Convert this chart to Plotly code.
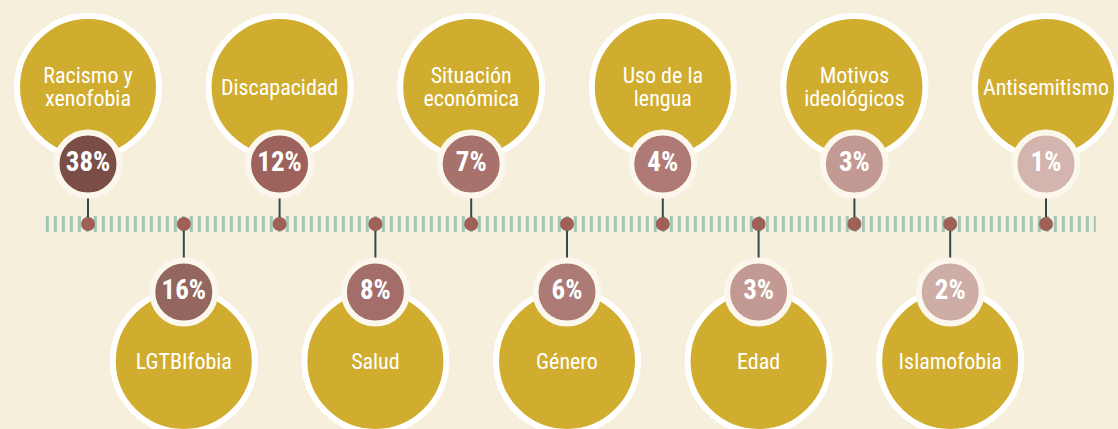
import plotly.graph_objects as go

# ---- data ----
categories = ["Racismo y<br>xenofobia", "LGTBIfobia", "Discapacidad", "Salud",
              "Situación<br>económica", "Género", "Uso de la<br>lengua", "Edad",
              "Motivos<br>ideológicos", "Islamofobia", "Antisemitismo"]
percentages = [38, 16, 12, 8, 7, 6, 4, 3, 3, 2, 1]
side = [1, -1, 1, -1, 1, -1, 1, -1, 1, -1, 1]  # 1 = above timeline, -1 = below

# ---- styles ----
pct_colors = ["#7A4E47", "#93675F", "#9C625B", "#A36E69", "#A8726C", "#AC7B76",
              "#AF7A75", "#C39A93", "#C39A93", "#CEADA7", "#D3B4AE"]
BG = "#F6EFDC"
GOLD = "#D1AD2F"
TICK = "#A2C5B6"
DOT = "#9E6059"
CONN = "#37474F"
FONT = "Roboto Condensed, DejaVu Sans Condensed, sans-serif"

W, H = 1118, 429
x0_px, step_px = 88, 95.8       # pixel position of first item and spacing
y_top_px = 224                  # pixel row of timeline from top

BIG_OFF, PCT_OFF_UP, PCT_OFF_DN = 137, 60, 68

n = len(categories)
xs = list(range(n))
big_y = [s * BIG_OFF for s in side]
pct_y = [PCT_OFF_UP if s > 0 else -PCT_OFF_DN for s in side]

fig = go.Figure()

# timeline (dashed band)
fig.add_trace(go.Scatter(
    x=[xs[0] - 0.44, xs[-1] + 0.52], y=[0, 0], mode="lines",
    line=dict(color=TICK, width=16, dash="3px,5px"), hoverinfo="skip"))

# connectors
cx, cy = [], []
for x, py in zip(xs, pct_y):
    cx += [x, x, None]
    cy += [py, 0, None]
fig.add_trace(go.Scatter(x=cx, y=cy, mode="lines",
                         line=dict(color=CONN, width=2), hoverinfo="skip"))

# big circles
fig.add_trace(go.Scatter(
    x=xs, y=big_y, mode="markers",
    marker=dict(size=142, color=GOLD, line=dict(color="white", width=6)),
    hoverinfo="skip"))

# percentage circles
fig.add_trace(go.Scatter(
    x=xs, y=pct_y, mode="markers",
    marker=dict(size=63, color=pct_colors, line=dict(color="#FBF7EC", width=6)),
    hoverinfo="skip"))

# timeline dots
fig.add_trace(go.Scatter(
    x=xs, y=[0] * n, mode="markers",
    marker=dict(size=14, color=DOT), hoverinfo="skip"))

# labels (each line placed separately for tight leading)
LINE_GAP = 23
lx, ly, lt = [], [], []
for x, by, lab in zip(xs, big_y, categories):
    lines = lab.split("<br>")
    k = len(lines)
    for j, t in enumerate(lines):
        lx.append(x)
        ly.append(by - 2 + ((k - 1) / 2 - j) * LINE_GAP)
        lt.append(t)
fig.add_trace(go.Scatter(
    x=lx, y=ly, mode="text", text=lt, textposition="middle center",
    textfont=dict(family=FONT, size=22, color="white"), hoverinfo="skip"))

# percentage text
fig.add_trace(go.Scatter(
    x=xs, y=pct_y, mode="text", text=[f"<b>{p}%</b>" for p in percentages],
    textposition="middle center",
    textfont=dict(family=FONT, size=27, color="white"), hoverinfo="skip"))

fig.update_layout(
    width=W, height=H, margin=dict(l=0, r=0, t=0, b=0),
    paper_bgcolor=BG, plot_bgcolor=BG, showlegend=False,
    xaxis=dict(range=[-x0_px / step_px, (W - x0_px) / step_px], visible=False, fixedrange=True),
    yaxis=dict(range=[-(H - y_top_px), y_top_px], visible=False, fixedrange=True),
)

fig.write_html("out.html", post_script="document.body.style.margin='0';",
               config={"displayModeBar": False})
